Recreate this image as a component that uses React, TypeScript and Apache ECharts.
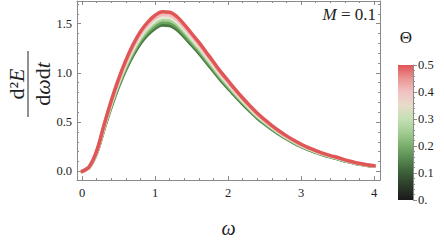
import React, { useEffect, useRef } from 'react';
import * as echarts from 'echarts';

// omega grid (x values)
const omega = [
  0, 0.1, 0.2, 0.3, 0.4, 0.5, 0.6, 0.7, 0.8, 0.9, 1.0, 1.1, 1.2, 1.3, 1.4, 1.5, 1.6, 1.7, 1.8, 1.9, 2.0,
  2.1, 2.2, 2.3, 2.4, 2.5, 2.6, 2.7, 2.8, 2.9, 3.0, 3.1, 3.2, 3.3, 3.4, 3.5, 3.6, 3.7, 3.8, 3.9, 4.0,
];

// d^2E/(dω dt), one list per Θ
const theta00 = [
  0, 0.045, 0.19, 0.431, 0.66, 0.862, 1.036, 1.183, 1.302, 1.389, 1.453, 1.486, 1.481, 1.44, 1.366, 1.284, 1.201, 1.11, 1.018, 0.926, 0.844,
  0.761, 0.683, 0.61, 0.541, 0.481, 0.426, 0.376, 0.33, 0.289, 0.252, 0.22, 0.193, 0.168, 0.147, 0.128, 0.106, 0.089, 0.073, 0.061, 0.051,
];
const theta01 = [
  0, 0.046, 0.193, 0.439, 0.672, 0.878, 1.055, 1.204, 1.326, 1.414, 1.479, 1.513, 1.508, 1.466, 1.391, 1.307, 1.223, 1.13, 1.036, 0.943, 0.859,
  0.775, 0.695, 0.621, 0.551, 0.49, 0.434, 0.383, 0.336, 0.294, 0.257, 0.224, 0.196, 0.171, 0.15, 0.13, 0.108, 0.091, 0.074, 0.062, 0.052,
];
const theta02 = [
  0, 0.047, 0.197, 0.447, 0.684, 0.893, 1.074, 1.226, 1.349, 1.439, 1.506, 1.54, 1.535, 1.492, 1.416, 1.33, 1.245, 1.15, 1.055, 0.96, 0.874,
  0.789, 0.708, 0.632, 0.561, 0.499, 0.442, 0.39, 0.342, 0.299, 0.261, 0.228, 0.2, 0.174, 0.152, 0.133, 0.11, 0.092, 0.076, 0.063, 0.053,
];
const theta03 = [
  0, 0.048, 0.2, 0.454, 0.696, 0.909, 1.092, 1.247, 1.373, 1.465, 1.532, 1.566, 1.561, 1.518, 1.44, 1.354, 1.266, 1.17, 1.073, 0.976, 0.89,
  0.802, 0.72, 0.643, 0.57, 0.507, 0.449, 0.396, 0.348, 0.305, 0.266, 0.232, 0.203, 0.177, 0.155, 0.135, 0.112, 0.094, 0.077, 0.065, 0.054,
];
const theta04 = [
  0, 0.049, 0.204, 0.462, 0.708, 0.924, 1.111, 1.269, 1.396, 1.49, 1.559, 1.593, 1.588, 1.544, 1.465, 1.377, 1.288, 1.19, 1.092, 0.993, 0.905,
  0.816, 0.733, 0.654, 0.58, 0.516, 0.457, 0.403, 0.354, 0.31, 0.27, 0.236, 0.207, 0.18, 0.157, 0.138, 0.114, 0.095, 0.079, 0.066, 0.055,
];
const theta05 = [
  0, 0.05, 0.207, 0.47, 0.72, 0.94, 1.13, 1.29, 1.42, 1.515, 1.585, 1.62, 1.615, 1.57, 1.49, 1.4, 1.31, 1.21, 1.11, 1.01, 0.92,
  0.83, 0.745, 0.665, 0.59, 0.525, 0.465, 0.41, 0.36, 0.315, 0.275, 0.24, 0.21, 0.183, 0.16, 0.14, 0.116, 0.097, 0.08, 0.067, 0.056,
];

const thetaLevels = [0, 0.1, 0.2, 0.3, 0.4, 0.5];
const curves = [theta00, theta01, theta02, theta03, theta04, theta05];
const curveColors = ['#4a7a44', '#6aa45e', '#a8d398', '#e6e8d6', '#f2bcbc', '#e05656'];

// x ticks / y ticks shown
const xTickLabels = [0, 1, 2, 3, 4];
const yTickLabels = [0, 0.5, 1.0, 1.5];

// colour bar (Θ scale)
const barMin = 0;
const barMax = 0.5;
const barStops = [
  { offset: 0, color: '#e05454' },
  { offset: 0.1, color: '#ea9494' },
  { offset: 0.2, color: '#f1c2c2' },
  { offset: 0.3, color: '#e6dcc8' },
  { offset: 0.4, color: '#c4e0b4' },
  { offset: 0.5, color: '#a2cc92' },
  { offset: 0.6, color: '#78ae6a' },
  { offset: 0.7, color: '#568850' },
  { offset: 0.8, color: '#3b5e37' },
  { offset: 0.9, color: '#2a3a28' },
  { offset: 1, color: '#1a1a1a' },
];

const serif = 'Liberation Serif';
const frameColor = '#8a8a8a';

export default function App() {
  const ref = useRef<HTMLDivElement>(null);

  useEffect(() => {
    if (!ref.current) return;
    const chart = echarts.init(ref.current, null, { renderer: 'svg' });

    const near = (v: number, arr: number[]) => arr.some((a) => Math.abs(a - v) < 1e-6);

    const frameAxisCommon = {
      type: 'value' as const,
      axisLine: { show: true, onZero: false, lineStyle: { color: frameColor, width: 1 } },
      axisTick: { show: true, inside: true, length: 4, lineStyle: { color: frameColor, width: 1 } },
      minorTick: { show: true, splitNumber: 5, length: 2, lineStyle: { color: frameColor, width: 1 } },
      splitLine: { show: false },
      minorSplitLine: { show: false },
    };

    const series: any[] = curves.map((c, i) => ({
      type: 'line',
      name: 'Θ=' + thetaLevels[i],
      xAxisIndex: 0,
      yAxisIndex: 0,
      data: omega.map((w, j) => [w, c[j]]),
      showSymbol: false,
      smooth: 0.35,
      silent: true,
      lineStyle: { color: curveColors[i], width: 3.5, cap: 'round', join: 'round' },
      z: 2 + i,
    }));

    series.push({
      type: 'bar',
      xAxisIndex: 2,
      yAxisIndex: 2,
      data: [barMax],
      barWidth: '100%',
      silent: true,
      itemStyle: {
        color: new echarts.graphic.LinearGradient(0, 0, 0, 1, barStops),
      },
    });

    const labelStyle = { fontFamily: serif, fontSize: 12.5, color: '#222' };

    chart.setOption({
      animation: false,
      backgroundColor: '#ffffff',
      textStyle: { fontFamily: serif },
      grid: [
        { left: 77, right: 64, top: 1, bottom: 55 },
        { left: 398, top: 65, width: 15, height: 135 },
      ],
      xAxis: [
        {
          ...frameAxisCommon,
          gridIndex: 0,
          position: 'bottom',
          min: -0.07,
          max: 4.08,
          splitNumber: 5,
          name: 'ω',
          nameLocation: 'middle',
          nameGap: 38,
          nameTextStyle: { fontFamily: serif, fontStyle: 'italic', fontSize: 20, color: '#222' },
          axisLabel: {
            show: true,
            margin: 6,
            ...labelStyle,
            showMinLabel: false,
            showMaxLabel: false,
            formatter: (v: number) => (near(v, xTickLabels) ? String(Math.round(v)) : ''),
          },
        },
        {
          ...frameAxisCommon,
          gridIndex: 0,
          position: 'top',
          min: -0.07,
          max: 4.08,
          splitNumber: 5,
          axisLabel: { show: false },
        },
        {
          type: 'category',
          gridIndex: 1,
          data: [''],
          show: false,
        },
      ],
      yAxis: [
        {
          ...frameAxisCommon,
          gridIndex: 0,
          position: 'left',
          min: -0.088,
          max: 1.73,
          splitNumber: 4,
          axisLabel: {
            show: true,
            margin: 5,
            ...labelStyle,
            showMinLabel: false,
            showMaxLabel: false,
            formatter: (v: number) => (near(v, yTickLabels) ? v.toFixed(1) : ''),
          },
        },
        {
          ...frameAxisCommon,
          gridIndex: 0,
          position: 'right',
          min: -0.088,
          max: 1.73,
          splitNumber: 4,
          axisLabel: { show: false },
        },
        {
          type: 'value',
          gridIndex: 1,
          position: 'right',
          min: barMin,
          max: barMax,
          interval: 0.1,
          axisLine: { show: true, lineStyle: { color: frameColor, width: 1 } },
          axisTick: { show: true, inside: false, length: 4, lineStyle: { color: frameColor } },
          minorTick: { show: true, splitNumber: 5, length: 2, lineStyle: { color: frameColor } },
          splitLine: { show: false },
          axisLabel: {
            show: true,
            margin: 5,
            ...labelStyle,
            formatter: (v: number) => (Math.abs(v) < 1e-9 ? '0.' : v.toFixed(1)),
          },
        },
      ],
      graphic: [
        {
          type: 'group',
          x: 28,
          y: 84,
          rotation: Math.PI / 2,
          children: [
            {
              type: 'text',
              x: 0,
              y: -12,
              style: {
                text: '{r|d²}{i|E}',
                align: 'center',
                verticalAlign: 'middle',
                rich: {
                  r: { fontFamily: serif, fontSize: 22, fill: '#222' },
                  i: { fontFamily: serif, fontSize: 22, fontStyle: 'italic', fill: '#222' },
                },
              },
            },
            {
              type: 'line',
              shape: { x1: -33, y1: 0, x2: 33, y2: 0 },
              style: { stroke: '#222', lineWidth: 1 },
            },
            {
              type: 'text',
              x: 0,
              y: 14,
              style: {
                text: '{r|d}{i|ω}{r|d}{i|t}',
                align: 'center',
                verticalAlign: 'middle',
                rich: {
                  r: { fontFamily: serif, fontSize: 22, fill: '#222' },
                  i: { fontFamily: serif, fontSize: 22, fontStyle: 'italic', fill: '#222' },
                },
              },
            },
          ],
        },
        {
          type: 'text',
          x: 376,
          y: 14,
          style: {
            text: '{i|M} = 0.1',
            align: 'right',
            verticalAlign: 'middle',
            fontFamily: serif,
            fontSize: 17,
            fill: '#222',
            rich: {
              i: { fontFamily: serif, fontSize: 17, fontStyle: 'italic', fill: '#222' },
            },
          },
        },
        {
          type: 'text',
          x: 406,
          y: 37,
          style: {
            text: 'Θ',
            align: 'center',
            verticalAlign: 'middle',
            fontFamily: serif,
            fontSize: 17,
            fill: '#222',
          },
        },
      ],
      series,
    });

    return () => chart.dispose();
  }, []);

  return (
    <div
      ref={ref}
      style={{ position: 'fixed', left: 0, top: 0, width: 444, height: 243, background: '#fff' }}
    />
  );
}
